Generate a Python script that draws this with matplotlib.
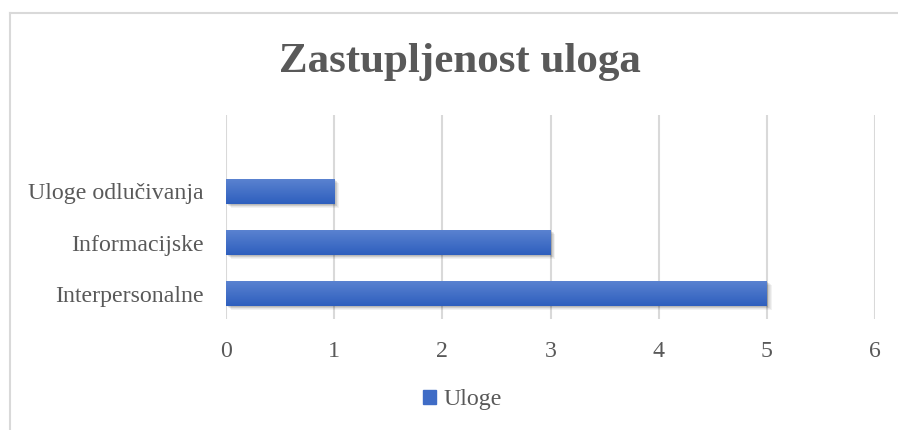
import matplotlib.pyplot as plt
import numpy as np
from matplotlib.lines import Line2D
from matplotlib.patches import Rectangle

# DATA
categories = ["Interpersonalne", "Informacijske", "Uloge odlučivanja"]
values = [5, 3, 1]
series_name = "Uloge"
title = "Zastupljenost uloga"
xticks = [0, 1, 2, 3, 4, 5, 6]

plt.rcParams['font.family'] = ['Liberation Serif', 'DejaVu Serif']
text_col = "#595959"
grid_col = "#d9d9d9"

fig = plt.figure(figsize=(8.98, 4.30), dpi=100)
ax = fig.add_axes([0.2517, 0.2581, 0.9744 - 0.2517, 0.7326 - 0.2581])

y = np.arange(len(categories))
bar_h = 0.49
bars = ax.barh(y, values, height=bar_h, color="#4472c4", zorder=3)

# gradient + soft shadow on every bar
grad = np.linspace(0, 1, 100).reshape(-1, 1)
cmap = plt.matplotlib.colors.LinearSegmentedColormap.from_list("g", ["#5a82d0", "#2e5fbe"])
for b in bars:
    x0, y0, w, h = b.get_x(), b.get_y(), b.get_width(), b.get_height()
    for k in range(6):
        off = 0.012 * (k + 1)
        ax.add_patch(Rectangle((x0 + off * 0.6, y0 - off), w, h, color="black",
                               alpha=0.05, lw=0, zorder=2))
    im = ax.imshow(grad, aspect="auto", cmap=cmap, extent=(x0, x0 + w, y0, y0 + h),
                   origin="upper", zorder=4)
    im.set_clip_path(b)

ax.set_xlim(0, 6)
ax.set_ylim(-0.5, 3.5)
ax.set_xticks(xticks)
ax.set_xticklabels([str(t) for t in xticks])
ax.set_yticks(y)
ax.set_yticklabels(categories)
ax.tick_params(axis="both", length=0, labelsize=17.2, labelcolor=text_col)
ax.tick_params(axis="x", pad=16)
ax.tick_params(axis="y", pad=16)
ax.grid(axis="x", color=grid_col, linewidth=1.5, zorder=0)
for s in ax.spines.values():
    s.set_visible(False)

fig.text(0.512, 1 - 72 / 430, title, ha="center", va="baseline", fontsize=31,
         fontweight="bold", color=text_col)

fig.legend(handles=[Rectangle((0, 0), 1, 1, color="#3f6cc6")], labels=[series_name],
           loc="center", bbox_to_anchor=(0.515, 1 - 400 / 430), frameon=False,
           fontsize=17.2, labelcolor=text_col, handlelength=0.55, handleheight=0.55,
           handletextpad=0.3)

# outer chart border (left and top edges visible)
fig.add_artist(Line2D([10 / 898, 10 / 898], [0, 1 - 12.5 / 430], transform=fig.transFigure,
                      color=grid_col, lw=1.5))
fig.add_artist(Line2D([10 / 898, 1], [1 - 12.5 / 430, 1 - 12.5 / 430], transform=fig.transFigure,
                      color=grid_col, lw=1.5))

fig.savefig("out.png", dpi=100)
